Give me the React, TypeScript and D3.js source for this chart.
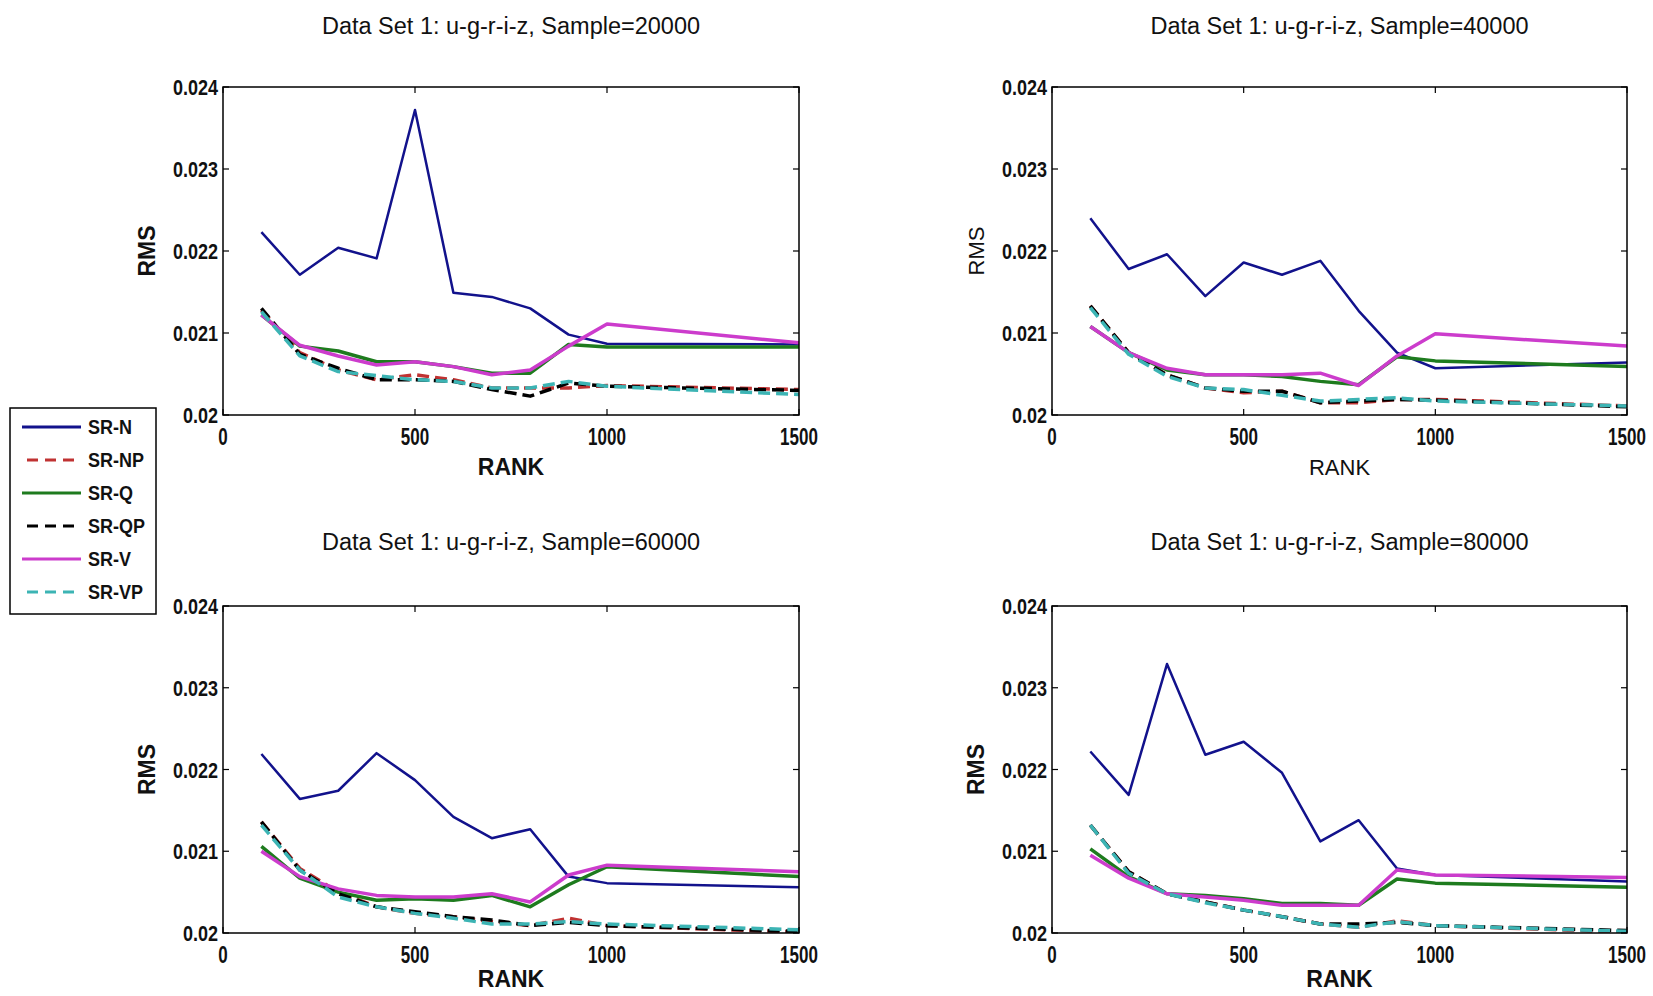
import * as d3 from 'd3'

// RMS vs RANK for four sample sizes (Data Set 1, u-g-r-i-z)
const RANKS = [100, 200, 300, 400, 500, 600, 700, 800, 900, 1000, 1500]
const X_TICKS = [0, 500, 1000, 1500]
const Y_TICKS = [0.02, 0.021, 0.022, 0.023, 0.024]
const Y_TICK_LABELS = ['0.02', '0.021', '0.022', '0.023', '0.024']

const SERIES_NAMES = ['SR-N', 'SR-NP', 'SR-Q', 'SR-QP', 'SR-V', 'SR-VP']
const COLORS = ['#12128c', '#c03232', '#1e7b1e', '#000000', '#cc3ccc', '#3cb4b4']
const DASHED = [false, true, false, true, false, true]
const WIDTHS = [2.5, 3.5, 3.5, 3.5, 3.5, 3.5]

const TITLES = [
  'Data Set 1: u-g-r-i-z, Sample=20000',
  'Data Set 1: u-g-r-i-z, Sample=40000',
  'Data Set 1: u-g-r-i-z, Sample=60000',
  'Data Set 1: u-g-r-i-z, Sample=80000',
]

// sample = 20000
const S20K_N = [0.02223, 0.02171, 0.02204, 0.02191, 0.02372, 0.02149, 0.02144, 0.0213, 0.02098, 0.02087, 0.02086]
const S20K_NP = [0.02128, 0.02076, 0.02055, 0.02043, 0.02049, 0.02043, 0.02033, 0.02033, 0.02033, 0.02036, 0.02031]
const S20K_Q = [0.02122, 0.02084, 0.02078, 0.02065, 0.02065, 0.02059, 0.02051, 0.02051, 0.02086, 0.02083, 0.02083]
const S20K_QP = [0.0213, 0.02074, 0.02057, 0.02043, 0.02043, 0.02041, 0.02031, 0.02023, 0.02039, 0.02035, 0.0203]
const S20K_V = [0.02122, 0.02085, 0.02072, 0.02061, 0.02065, 0.02059, 0.02049, 0.02055, 0.02084, 0.02111, 0.02088]
const S20K_VP = [0.02126, 0.02072, 0.02053, 0.02048, 0.02043, 0.02041, 0.02033, 0.02033, 0.02041, 0.02035, 0.02025]

// sample = 40000
const S40K_N = [0.0224, 0.02178, 0.02196, 0.02145, 0.02186, 0.02171, 0.02188, 0.02127, 0.02076, 0.02057, 0.02064]
const S40K_NP = [0.02133, 0.02076, 0.02049, 0.02033, 0.02027, 0.02029, 0.02015, 0.02015, 0.02019, 0.02019, 0.02011]
const S40K_Q = [0.02108, 0.02076, 0.02055, 0.02049, 0.02049, 0.02047, 0.02041, 0.02037, 0.02071, 0.02066, 0.02059]
const S40K_QP = [0.02133, 0.02076, 0.02049, 0.02033, 0.02029, 0.02029, 0.02015, 0.02017, 0.02019, 0.02018, 0.0201]
const S40K_V = [0.02108, 0.02076, 0.02057, 0.02049, 0.02049, 0.02049, 0.02051, 0.02036, 0.02072, 0.02099, 0.02084]
const S40K_VP = [0.02131, 0.02074, 0.02047, 0.02033, 0.02031, 0.02024, 0.02017, 0.02019, 0.02021, 0.02017, 0.02011]

// sample = 60000
const S60K_N = [0.02219, 0.02164, 0.02174, 0.0222, 0.02187, 0.02142, 0.02116, 0.02127, 0.02069, 0.02061, 0.02056]
const S60K_NP = [0.02136, 0.02079, 0.0205, 0.02032, 0.02024, 0.0202, 0.02014, 0.02009, 0.02018, 0.02009, 0.02001]
const S60K_Q = [0.02106, 0.02067, 0.0205, 0.0204, 0.02042, 0.0204, 0.02046, 0.02032, 0.02059, 0.02081, 0.02069]
const S60K_QP = [0.02136, 0.02077, 0.02048, 0.02032, 0.02026, 0.0202, 0.02016, 0.02009, 0.02013, 0.02009, 0.02002]
const S60K_V = [0.021, 0.02069, 0.02054, 0.02046, 0.02044, 0.02044, 0.02048, 0.02038, 0.02071, 0.02083, 0.02075]
const S60K_VP = [0.02132, 0.02077, 0.02044, 0.02032, 0.02024, 0.02018, 0.02011, 0.02011, 0.02014, 0.02011, 0.02004]

// sample = 80000
const S80K_N = [0.02222, 0.02169, 0.02329, 0.02218, 0.02234, 0.02196, 0.02112, 0.02138, 0.02079, 0.02071, 0.02063]
const S80K_NP = [0.02132, 0.02075, 0.02048, 0.02038, 0.02028, 0.0202, 0.02011, 0.02007, 0.02015, 0.02009, 0.02001]
const S80K_Q = [0.02103, 0.02069, 0.02048, 0.02046, 0.02042, 0.02036, 0.02036, 0.02034, 0.02066, 0.02061, 0.02056]
const S80K_QP = [0.02132, 0.02075, 0.02048, 0.02038, 0.02028, 0.0202, 0.02011, 0.02011, 0.02013, 0.02009, 0.02003]
const S80K_V = [0.02095, 0.02067, 0.02048, 0.02044, 0.0204, 0.02034, 0.02034, 0.02034, 0.02077, 0.02071, 0.02068]
const S80K_VP = [0.02132, 0.02073, 0.02048, 0.02037, 0.02028, 0.0202, 0.02011, 0.02007, 0.02014, 0.02009, 0.02002]

const PANEL_DATA = [
  [S20K_N, S20K_NP, S20K_Q, S20K_QP, S20K_V, S20K_VP],
  [S40K_N, S40K_NP, S40K_Q, S40K_QP, S40K_V, S40K_VP],
  [S60K_N, S60K_NP, S60K_Q, S60K_QP, S60K_V, S60K_VP],
  [S80K_N, S80K_NP, S80K_Q, S80K_QP, S80K_V, S80K_VP],
]

const W = 1653
const H = 996
const FONT = "'Liberation Sans', Arial, sans-serif"

// plot boxes: [left, right, top, bottom]
const BOXES = [
  [223, 799, 87, 415],
  [1052, 1627, 87, 415],
  [223, 799, 606, 933],
  [1052, 1627, 606, 933],
]
const BOLD_LABELS = [true, false, true, true]

type PanelProps = { idx: number }

function Panel({ idx }: PanelProps) {
  const [x0, x1, y0, y1] = BOXES[idx]
  const x = d3.scaleLinear().domain([0, 1500]).range([x0, x1])
  const y = d3.scaleLinear().domain([0.02, 0.024]).range([y1, y0])
  const line = d3.line<number>().x((_, i) => x(RANKS[i])).y((d) => y(d))
  const bold = BOLD_LABELS[idx]
  const tk = 6
  const cx = (x0 + x1) / 2
  const cy = (y0 + y1) / 2
  const titleY = idx < 2 ? 34 : 550
  const rankY = idx < 2 ? y1 + 60 : y1 + 54

  return (
    <g>
      <text x={cx} y={titleY} textAnchor="middle" fontFamily={FONT} fontSize={23.5} fill="#111">
        {TITLES[idx]}
      </text>

      <rect x={x0} y={y0} width={x1 - x0} height={y1 - y0} fill="#fff" />

      <g clipPath={`url(#clip${idx})`}>
        {PANEL_DATA[idx].map((vals, s) => (
          <path
            key={s}
            d={line(vals) || ''}
            fill="none"
            stroke={COLORS[s]}
            strokeWidth={WIDTHS[s]}
            strokeDasharray={DASHED[s] ? '12,6' : undefined}
            strokeLinejoin="round"
          />
        ))}
      </g>

      {/* frame + inward ticks */}
      <rect x={x0} y={y0} width={x1 - x0} height={y1 - y0} fill="none" stroke="#000" strokeWidth={1.5} />
      {X_TICKS.map((t) => (
        <g key={'xt' + t}>
          <line x1={x(t)} x2={x(t)} y1={y1} y2={y1 - tk} stroke="#000" strokeWidth={1.2} />
          <line x1={x(t)} x2={x(t)} y1={y0} y2={y0 + tk} stroke="#000" strokeWidth={1.2} />
          <text
            transform={`translate(${x(t)},${y1 + 30}) scale(0.74,1)`}
            textAnchor="middle"
            fontFamily={FONT}
            fontWeight="bold"
            fontSize={23}
            fill="#111"
          >
            {t}
          </text>
        </g>
      ))}
      {Y_TICKS.map((t, i) => (
        <g key={'yt' + i}>
          <line x1={x0} x2={x0 + tk} y1={y(t)} y2={y(t)} stroke="#000" strokeWidth={1.2} />
          <line x1={x1} x2={x1 - tk} y1={y(t)} y2={y(t)} stroke="#000" strokeWidth={1.2} />
          <text
            transform={`translate(${x0 - 5},${y(t) + 8}) scale(0.8,1)`}
            textAnchor="end"
            fontFamily={FONT}
            fontWeight="bold"
            fontSize={22.5}
            fill="#111"
          >
            {Y_TICK_LABELS[i]}
          </text>
        </g>
      ))}

      <text
        x={cx}
        y={rankY}
        textAnchor="middle"
        fontFamily={FONT}
        fontWeight={bold ? 'bold' : 'normal'}
        fontSize={bold ? 23 : 22}
        fill="#111"
      >
        RANK
      </text>
      <text
        transform={`translate(${x0 - 68},${cy}) rotate(-90)`}
        textAnchor="middle"
        fontFamily={FONT}
        fontWeight={bold ? 'bold' : 'normal'}
        fontSize={bold ? 23 : 22}
        fill="#111"
      >
        RMS
      </text>
    </g>
  )
}

function Legend() {
  const rowY = d3.scalePoint<string>().domain(SERIES_NAMES).range([427, 592])
  return (
    <g>
      <rect x={10} y={408} width={146} height={206} fill="#fff" stroke="#000" strokeWidth={1.5} />
      {SERIES_NAMES.map((name, s) => {
        const ry = rowY(name) as number
        return (
          <g key={name}>
            <line
              x1={DASHED[s] ? 27 : 22}
              x2={81}
              y1={ry}
              y2={ry}
              stroke={COLORS[s]}
              strokeWidth={3}
              strokeDasharray={DASHED[s] ? '11,7' : undefined}
            />
            <text
              transform={`translate(88,${ry + 7}) scale(0.9,1)`}
              fontFamily={FONT}
              fontWeight="bold"
              fontSize={20}
              fill="#111"
            >
              {name}
            </text>
          </g>
        )
      })}
    </g>
  )
}

export default function App() {
  return (
    <svg
      width={W}
      height={H}
      viewBox={`0 0 ${W} ${H}`}
      style={{ position: 'absolute', left: 0, top: 0, background: '#fff' }}
    >
      <defs>
        {BOXES.map(([x0, x1, y0, y1], i) => (
          <clipPath id={`clip${i}`} key={i}>
            <rect x={x0} y={y0 - 2} width={x1 - x0} height={y1 - y0 + 2} />
          </clipPath>
        ))}
      </defs>
      <rect width={W} height={H} fill="#fff" />
      {[0, 1, 2, 3].map((i) => (
        <Panel key={i} idx={i} />
      ))}
      <Legend />
    </svg>
  )
}
